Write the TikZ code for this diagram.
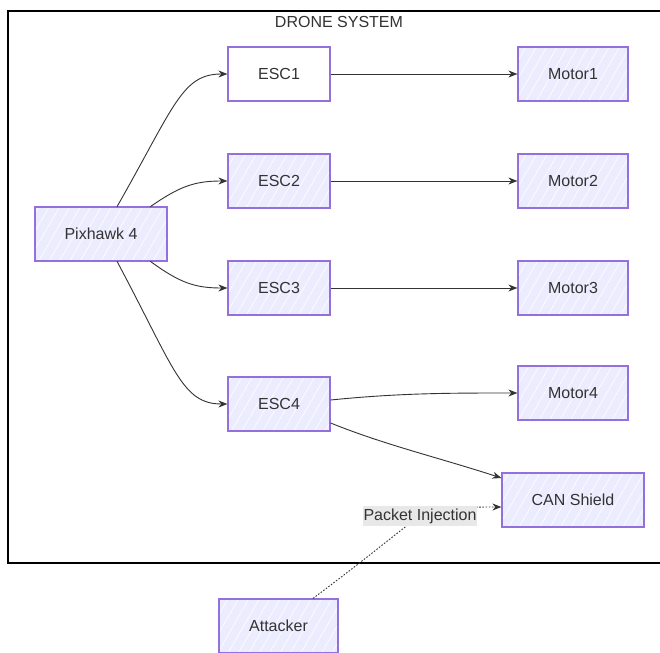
\documentclass[tikz,border=0pt]{standalone}
\usepackage{fontspec}
\setmainfont{Liberation Sans}
\usetikzlibrary{arrows.meta,patterns.meta}
\definecolor{lav}{HTML}{ECECFF}
\definecolor{purp}{HTML}{9370DB}
\definecolor{txt}{HTML}{333333}
\definecolor{lbl}{HTML}{E8E8E8}
\tikzset{
  lbltext/.style={text=txt, font=\fontsize{16}{19}\selectfont},
  basebox/.style={lbltext, draw=purp, line width=1.2pt, minimum height=54pt, inner sep=0pt},
  box/.style={basebox, preaction={fill=lav}, pattern={Lines[angle=60,distance=9pt,line width=0.6pt]}, pattern color=white},
  plainbox/.style={basebox, fill=white},
  edge/.style={draw=txt, line width=0.9pt, -{Stealth[length=9pt,width=7pt]}},
  dotedge/.style={edge, dash pattern=on 1.6pt off 1.6pt},
}
\begin{document}
\begin{tikzpicture}[x=1pt,y=-1pt]
\useasboundingbox (0,0) rectangle (660,652);
\clip (0,0) rectangle (660,652);
\fill[white] (0,0) rectangle (660,652);
% subgraph frame
\draw[line width=1.2pt, black] (8,11) rectangle (690,563);
\node[lbltext] (title) at (339,22) {DRONE SYSTEM};
% nodes
\node[box, minimum width=132pt] (pix) at (101,234) {Pixhawk 4};
\node[plainbox, minimum width=102pt] (esc1) at (279,74) {ESC1};
\node[box, minimum width=102pt] (esc2) at (279,181) {ESC2};
\node[box, minimum width=102pt] (esc3) at (279,288) {ESC3};
\node[box, minimum width=102pt] (esc4) at (279,404) {ESC4};
\node[box, minimum width=110pt] (m1) at (573,74) {Motor1};
\node[box, minimum width=110pt] (m2) at (573,181) {Motor2};
\node[box, minimum width=110pt] (m3) at (573,288) {Motor3};
\node[box, minimum width=110pt] (m4) at (573,393) {Motor4};
\node[box, minimum width=142pt] (can) at (573,500) {CAN Shield};
\node[box, minimum width=119pt] (att) at (278.5,626) {Attacker};
% edges
\draw[edge] ([xshift=16pt]pix.north) .. controls (175,105) and (182,74) .. (esc1.west);
\draw[edge] ([xshift=-17pt]pix.north east) .. controls (180,186) and (195,181) .. (esc2.west);
\draw[edge] ([xshift=-17pt]pix.south east) .. controls (180,283) and (195,288) .. (esc3.west);
\draw[edge] ([xshift=16pt]pix.south) .. controls (175,370) and (182,404) .. (esc4.west);
\draw[edge] (esc1.east) -- (m1.west);
\draw[edge] (esc2.east) -- (m2.west);
\draw[edge] (esc3.east) -- (m3.west);
\draw[edge] ([yshift=4pt]esc4.east) .. controls (400,393) and (450,393) .. (m4.west);
\draw[edge] ([yshift=-19pt]esc4.east) .. controls (385,445) and (440,458) .. ([yshift=22pt]can.west);
\coordinate (pic) at (420,516);
\draw[dotedge] ([xshift=34.5pt]att.north) .. controls (375,552) and (400,530) .. (pic) .. controls (445,507) and (470,507) .. ([yshift=-7pt]can.west);
\node[lbltext, fill=lbl, inner xsep=0.5pt, inner ysep=3pt] (pilabel) at (pic) {Packet Injection};
\end{tikzpicture}
\end{document}
